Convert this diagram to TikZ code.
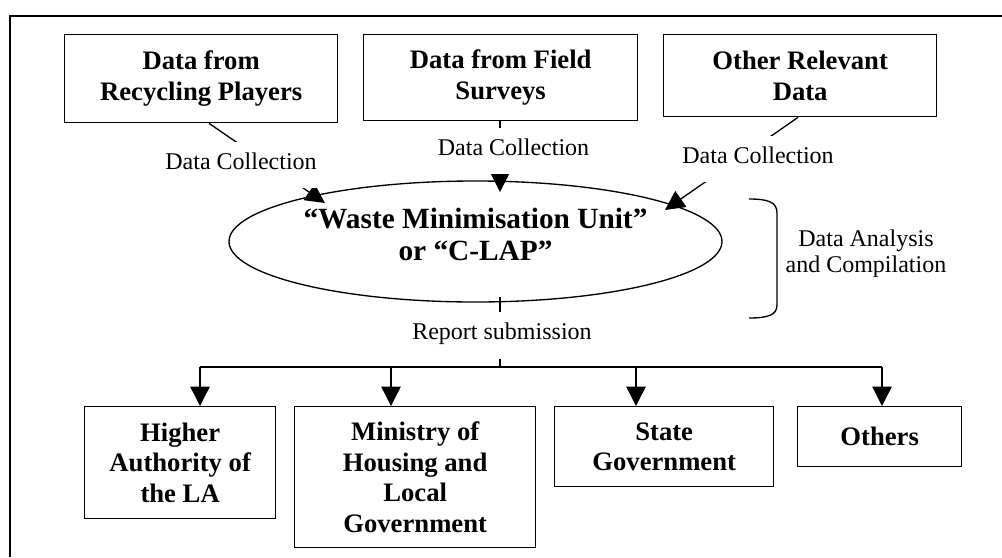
\documentclass[tikz,border=0pt]{standalone}
\usepackage{fontspec}
\setmainfont{Liberation Serif}
\usetikzlibrary{arrows.meta,calc,shapes.geometric}
\begin{document}
\begin{tikzpicture}[x=0.75pt,y=-0.75pt,
  box/.style 2 args={draw,line width=1pt,align=center,inner sep=0pt,anchor=north west,
    minimum width=#1*0.75pt,minimum height=#2*0.75pt,
    font=\fontsize{20}{23}\selectfont\bfseries},
  flowlabel/.style={fill=white,inner xsep=2pt,inner ysep=0pt,text height=0.662em,text depth=0pt,
    minimum height=35pt,font=\fontsize{18}{19.5}\selectfont},
  link/.style={line width=1pt},
  arrow/.style={line width=1pt,-{Triangle[length=14.5pt,width=14.5pt]}}
]
\useasboundingbox (0,0) rectangle (1002,557);
% open frame
\draw[line width=1.2pt] (10,557) -- (10,16) -- (1002,16);

% data sources
\node[box={273}{88}] (src1) at (64,34) {Data from\\Recycling Players};
\node[box={274}{86}] (src2) at (363,34) {Data from Field\\Surveys};
\node[box={273}{82}] (src3) at (663,34) {Other Relevant\\Data};

% central unit
\node[draw,ellipse,line width=1pt,minimum width=493*0.75pt,minimum height=121*0.75pt,inner sep=0pt]
  (unit) at (475.5,241.5) {};
\node[font=\fontsize{22}{24}\selectfont\bfseries,align=center,inner sep=0pt]
  (unitname) at ($(unit.center)+(0,-7)$) {“Waste Minimisation Unit”\\or “C-LAP”};

% arrow tips on the ellipse
\coordinate (tip1) at ($(unit.center)+(-150.5,-38.5)$);
\coordinate (tip2) at ($(unit.center)+(24.5,-49.5)$);
\coordinate (tip3) at ($(unit.center)+(189.5,-31.5)$);

% data collection flows
\draw[arrow] ($(src1.south west)+(145,0)$) -- (tip1);
\draw[arrow] ($(src2.south west)+(137,0)$) -- (tip2);
\draw[arrow] ($(src3.south west)+(135,0)$) -- (tip3);
\node[flowlabel] (dc1) at (241,165) {Data Collection};
\node[flowlabel] (dc2) at (513.5,151) {Data Collection};
\node[flowlabel] (dc3) at (758,159) {Data Collection};

% analysis bracket
\draw[link] (749,199) .. controls (768,199) and (777,202) .. (777,213) -- (777,305)
  .. controls (777,315) and (768,318) .. (749,318);
\node[font=\fontsize{18}{19.5}\selectfont,align=center,inner sep=0pt] (analysis) at (866,254)
  {Data Analysis\\and Compilation};

% recipients
\node[box={191}{112}] (rcp1) at (84,406) {Higher\\Authority of\\the LA};
\node[box={241}{141}] (rcp2) at (294,406) {Ministry of\\Housing and\\Local\\Government};
\node[box={219}{80}] (rcp3) at (554,406) {State\\Government};
\node[box={164}{60}] (rcp4) at (797,406) {Others};

\coordinate (t1) at ($(rcp1.north west)+(116,0)$);
\coordinate (t2) at ($(rcp2.north west)+(97,0)$);
\coordinate (t3) at ($(rcp3.north west)+(82,0)$);
\coordinate (t4) at ($(rcp4.north west)+(85,0)$);

% report submission
\coordinate (rep) at ($(unit.center)+(24.5,55.5)$);
\coordinate (split) at ($(unit.center)+(24.5,125.5)$);
\draw[link] (rep) -- (split);
\draw[link] (t1 |- split) -- (t4 |- split);
\foreach \t in {t1,t2,t3,t4}
  \draw[arrow] (\t |- split) -- (\t);
\node[flowlabel] (report) at (502,335.5) {Report submission};
\end{tikzpicture}
\end{document}
